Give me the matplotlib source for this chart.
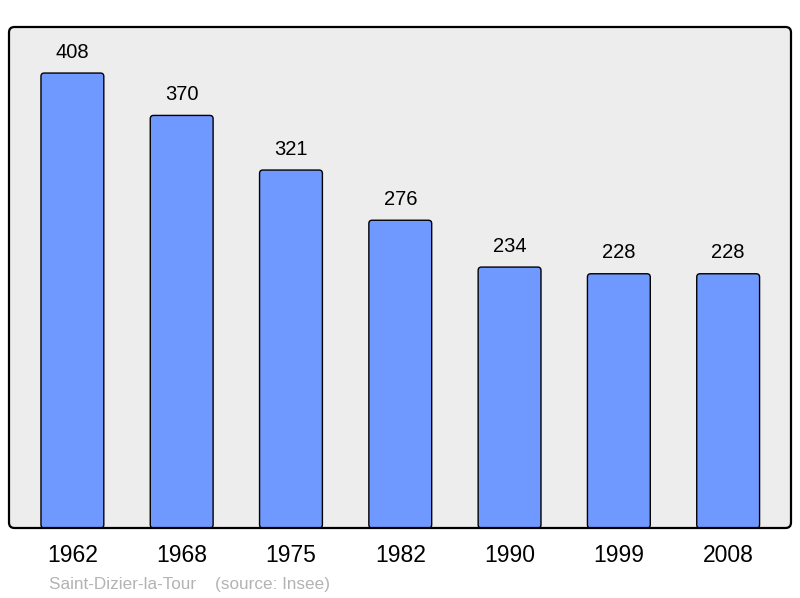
import matplotlib
matplotlib.use("Agg")
import matplotlib.pyplot as plt
from matplotlib.patches import FancyBboxPatch

years = ["1962", "1968", "1975", "1982", "1990", "1999", "2008"]
population = [408, 370, 321, 276, 234, 228, 228]
caption = "Saint-Dizier-la-Tour    (source: Insee)"

plt.rcParams["font.family"] = ["Liberation Sans", "DejaVu Sans"]

fig = plt.figure(figsize=(8, 5.98), dpi=100)
ax = fig.add_axes([9 / 800, 70 / 598, 782 / 800, 501 / 598])
ax.patch.set_visible(False)
for s in ax.spines.values():
    s.set_visible(False)

x = list(range(len(years)))
bars = ax.bar(x, population, width=0.575, color="none", edgecolor="none")
ax.set_xlim(-0.58, 6.575)
ax.set_ylim(0, 449.3)
ax.set_xticks([])
ax.set_yticks([])

# rounded bars built from the bar geometry
for b in bars:
    fb = FancyBboxPatch((b.get_x(), b.get_y()), b.get_width(), b.get_height(),
                        boxstyle="round,pad=0,rounding_size=0.03",
                        mutation_aspect=100, facecolor="#7099ff",
                        edgecolor="black", linewidth=1.0, zorder=3)
    ax.add_patch(fb)

for xi, v in zip(x, population):
    ax.annotate(str(v), (xi, v), xytext=(0, 15), textcoords="offset points",
                ha="center", va="center", fontsize=14.5, color="black")

for xi, lab in zip(x, years):
    ax.text(xi, -28 / 501, lab, transform=ax.get_xaxis_transform(),
            ha="center", va="center", fontsize=16.5, color="black")

# background and frame with rounded corners
bg = FancyBboxPatch((0, 0), 1, 1, boxstyle="round,pad=0,rounding_size=0.007",
                    mutation_aspect=1.56, transform=ax.transAxes,
                    facecolor="#ededed", edgecolor="none", zorder=0, clip_on=False)
ax.add_patch(bg)
frame = FancyBboxPatch((0, 0), 1, 1, boxstyle="round,pad=0,rounding_size=0.007",
                       mutation_aspect=1.56, transform=ax.transAxes,
                       facecolor="none", edgecolor="black", linewidth=1.6,
                       zorder=5, clip_on=False)
ax.add_patch(frame)

fig.text(49 / 800, 1 - 584 / 598, caption, ha="left", va="center",
         fontsize=12.3, color="#b3b3b3")

fig.savefig("out.png", dpi=100)
